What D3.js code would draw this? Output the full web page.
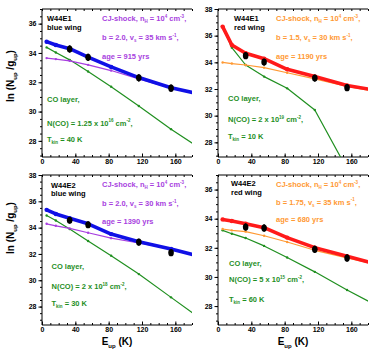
<!DOCTYPE html>
<html>
<head>
<meta charset="utf-8">
<script src="https://cdn.jsdelivr.net/npm/d3@7"></script>
<style>
  body { margin: 0; background: #fff; }
  svg { display: block; font-family: "Liberation Sans", Arial, sans-serif; font-weight: bold; }
</style>
</head>
<body>
<div id="chart"></div>
<script>
// upper level energies of CO J = 1..8 (K)
var EUP = [5.53, 16.60, 33.19, 55.32, 82.97, 116.16, 154.87, 199.11];
// observed transitions (J = 3, 4, 6, 7)
var OBS_EUP = [33.19, 55.32, 116.16, 154.87];

// W44E1 blue wing
var E1B_FIT = [34.77, 34.54, 34.29, 33.71, 33.05, 32.32, 31.63, 31.07];
var E1B_SHOCK = [33.65, 33.58, 33.46, 33.19, 32.80, 32.23, 31.59, 31.05];
var E1B_CO = [34.38, 34.03, 33.53, 32.73, 31.70, 30.38, 28.80, 27.14];
var E1B_OBS = [34.27, 33.70, 32.30, 31.60];

// W44E1 red wing
var E1R_FIT = [36.68, 35.30, 34.68, 34.27, 33.48, 32.94, 32.27, 31.79];
var E1R_SHOCK = [33.99, 33.91, 33.80, 33.60, 33.22, 32.76, 32.19, 31.72];
var E1R_CO = [36.68, 35.10, 33.80, 32.93, 32.05, 30.43, 26.00, 21.00];
var E1R_OBS = [34.50, 34.02, 32.82, 32.10];

// W44E2 blue wing
var E2B_FIT = [35.35, 35.04, 34.72, 34.29, 33.51, 32.93, 32.38, 31.66];
var E2B_SHOCK = [34.29, 34.14, 33.94, 33.61, 33.20, 32.83, 32.38, 31.68];
var E2B_CO = [34.92, 34.54, 33.89, 32.98, 31.87, 30.47, 28.70, 26.67];
var E2B_OBS = [34.56, 34.22, 32.90, 32.10];

// W44E2 red wing
var E2R_FIT = [33.95, 33.84, 33.65, 33.38, 32.70, 32.01, 31.42, 30.73];
var E2R_SHOCK = [33.29, 33.20, 33.11, 32.83, 32.40, 31.83, 31.31, 30.73];
var E2R_CO = [33.20, 32.97, 32.67, 32.13, 31.33, 30.35, 29.10, 27.77];
var E2R_OBS = [33.43, 33.36, 31.90, 31.30];

var OBS_ERR = 0.25;
var X_TICKS = [0, 40, 80, 120, 160];

// panel label texts: [text, "n" | "sub" | "sup"]
var E1B_LABELS = {
    name: ["W44E1", "blue wing"],
    shock: [
        [["CJ-shock, n"], ["H", "sub"], [" = 10"], ["4", "sup"], [" cm"], ["-3", "sup"], [","]],
        [["b = 2.0, v"], ["s", "sub"], [" = 35 km s"], ["-1", "sup"], [","]],
        [["age = 915 yrs"]]
    ],
    co: [
        [["CO layer,"]],
        [["N(CO) =  1.25 x 10"], ["16", "sup"], [" cm"], ["-2", "sup"], [","]],
        [["T"], ["kin", "sub"], [" = 40 K"]]
    ]
};
var E1R_LABELS = {
    name: ["W44E1", "red wing"],
    shock: [
        [["CJ-shock, n"], ["H", "sub"], [" = 10"], ["4", "sup"], [" cm"], ["-3", "sup"], [","]],
        [["b = 1.5, v"], ["s", "sub"], [" = 30 km s"], ["-1", "sup"], [","]],
        [["age = 1190 yrs"]]
    ],
    co: [
        [["CO layer,"]],
        [["N(CO) = 2 x 10"], ["19", "sup"], [" cm"], ["-2", "sup"], [","]],
        [["T"], ["kin", "sub"], [" = 10 K"]]
    ]
};
var E2B_LABELS = {
    name: ["W44E2", "blue wing"],
    shock: [
        [["CJ-shock, n"], ["H", "sub"], [" = 10"], ["4", "sup"], [" cm"], ["-3", "sup"], [","]],
        [["b = 2.0, v"], ["s", "sub"], [" = 30 km s"], ["-1", "sup"], [","]],
        [["age = 1390 yrs"]]
    ],
    co: [
        [["CO layer,"]],
        [["N(CO) = 2 x 10"], ["18", "sup"], [" cm"], ["-2", "sup"], [","]],
        [["T"], ["kin", "sub"], [" = 30 K"]]
    ]
};
var E2R_LABELS = {
    name: ["W44E2", "red wing"],
    shock: [
        [["CJ-shock, n"], ["H", "sub"], [" = 10"], ["4", "sup"], [" cm"], ["-3", "sup"], [","]],
        [["b = 1.75, v"], ["s", "sub"], [" = 35 km s"], ["-1", "sup"], [","]],
        [["age = 680 yrs"]]
    ],
    co: [
        [["CO layer,"]],
        [["N(CO) = 5 x 10"], ["15", "sup"], [" cm"], ["-2", "sup"], [","]],
        [["T"], ["kin", "sub"], [" = 60 K"]]
    ]
};

var GREEN = "#1f8f1f";
var BLUE = "#1010e6";
var PURPLE = "#a83fe0";
var RED = "#ff1a1a";
var ORANGE = "#ff9933";

// write text made of plain / sub / sup parts
function richText(g, x, y, parts, size, color, anchor) {
    var t = g.append("text")
        .attr("x", x)
        .attr("y", y)
        .attr("font-size", size)
        .attr("fill", color)
        .attr("text-anchor", anchor || "start");
    var shift = 0;
    parts.forEach(function (p) {
        var kind = p[1] || "n";
        var target = kind === "sub" ? size * 0.3 : kind === "sup" ? -size * 0.42 : 0;
        t.append("tspan")
            .attr("dy", target - shift)
            .attr("font-size", kind === "n" ? size : size * 0.6)
            .text(p[0]);
        shift = target;
    });
    return t;
}

function drawPanel(svg, cfg, idx) {
    var x = d3.scaleLinear().domain([0, 180]).range([cfg.left, cfg.right]);
    var y = d3.scaleLinear().domain(cfg.yDomain).range([cfg.bottom, cfg.top]);
    var g = svg.append("g");

    // clip for lines
    svg.append("clipPath").attr("id", "clip" + idx)
        .append("rect")
        .attr("x", cfg.left).attr("y", cfg.top)
        .attr("width", cfg.right - cfg.left).attr("height", cfg.bottom - cfg.top);

    // left axis, outward ticks
    var yMajor = d3.range(Math.ceil(cfg.yDomain[0] / 2) * 2, cfg.yDomain[1] + 0.01, 2);
    var yMinor = d3.range(Math.ceil(cfg.yDomain[0] * 2) / 2, cfg.yDomain[1] + 0.01, 0.5);
    g.append("g")
        .attr("transform", "translate(" + cfg.left + ",0)")
        .call(d3.axisLeft(y).tickValues(yMinor).tickSize(2).tickFormat(""))
        .call(function (a) { a.select(".domain").remove(); });
    g.append("g")
        .attr("class", "yax")
        .attr("transform", "translate(" + cfg.left + ",0)")
        .call(d3.axisLeft(y).tickValues(yMajor).tickSize(3.5).tickPadding(2).tickFormat(d3.format("d")))
        .call(function (a) {
            a.select(".domain").remove();
            a.selectAll("text").attr("font-size", 7).attr("font-family", null).attr("fill", "#000");
        });

    // bottom axis, inward ticks
    var xMinor = d3.range(0, 181, 10);
    g.append("g")
        .attr("transform", "translate(0," + cfg.bottom + ")")
        .call(d3.axisBottom(x).tickValues(xMinor).tickSize(-2).tickFormat(""))
        .call(function (a) { a.select(".domain").remove(); });
    g.append("g")
        .attr("transform", "translate(0," + cfg.bottom + ")")
        .call(d3.axisBottom(x).tickValues(X_TICKS).tickSize(-3.5).tickPadding(2.5))
        .call(function (a) {
            a.select(".domain").remove();
            a.selectAll("text").attr("font-size", 7).attr("font-family", null).attr("fill", "#000");
        });

    // top axis, inward ticks
    g.append("g")
        .attr("transform", "translate(0," + cfg.top + ")")
        .call(d3.axisTop(x).tickValues(xMinor).tickSize(-2).tickFormat(""))
        .call(function (a) { a.select(".domain").remove(); });

    // frame lines (left, bottom, top)
    g.append("path")
        .attr("d", "M" + cfg.right + "," + cfg.top + "H" + cfg.left + "V" + cfg.bottom + "H" + cfg.right)
        .attr("fill", "none")
        .attr("stroke", "#000")
        .attr("stroke-width", 1);

    var line = d3.line()
        .x(function (d, i) { return x(EUP[i]); })
        .y(function (d) { return y(d); });

    var plot = svg.append("g").attr("clip-path", "url(#clip" + idx + ")");

    [
        { data: cfg.co, color: GREEN, w: 1.2 },
        { data: cfg.shock, color: cfg.shockColor, w: 1.2 },
        { data: cfg.fit, color: cfg.fitColor, w: 3.6 }
    ].forEach(function (s) {
        plot.append("path")
            .datum(s.data)
            .attr("d", line)
            .attr("fill", "none")
            .attr("stroke", s.color)
            .attr("stroke-width", s.w)
            .attr("stroke-linejoin", "round");
        plot.selectAll(null)
            .data(s.data)
            .enter()
            .append("circle")
            .attr("cx", function (d, i) { return x(EUP[i]); })
            .attr("cy", function (d) { return y(d); })
            .attr("r", s.w > 2 ? 2.2 : 1.2)
            .attr("fill", s.color);
    });

    // observed points with error bars
    plot.selectAll(null)
        .data(cfg.obs)
        .enter()
        .append("line")
        .attr("x1", function (d, i) { return x(OBS_EUP[i]); })
        .attr("x2", function (d, i) { return x(OBS_EUP[i]); })
        .attr("y1", function (d) { return y(d - OBS_ERR); })
        .attr("y2", function (d) { return y(d + OBS_ERR); })
        .attr("stroke", "#000")
        .attr("stroke-width", 1.5);
    plot.selectAll(null)
        .data(cfg.obs)
        .enter()
        .append("ellipse")
        .attr("cx", function (d, i) { return x(OBS_EUP[i]); })
        .attr("cy", function (d) { return y(d); })
        .attr("rx", 2.8)
        .attr("ry", 3.6)
        .attr("fill", "#000");

    // labels
    var L = cfg.labels;
    g.append("text").attr("x", cfg.left + cfg.nameDx).attr("y", cfg.top + cfg.nameDy[0])
        .attr("font-size", 7.5).attr("fill", "#000").text(L.name[0]);
    g.append("text").attr("x", cfg.left + cfg.nameDx).attr("y", cfg.top + cfg.nameDy[1])
        .attr("font-size", 7.5).attr("fill", "#000").text(L.name[1]);
    L.shock.forEach(function (parts, i) {
        richText(g, cfg.left + cfg.shockDx, cfg.top + cfg.shockDy[i], parts, 7.5, cfg.shockColor);
    });
    L.co.forEach(function (parts, i) {
        richText(g, cfg.left + cfg.coDx, cfg.top + cfg.coDy[i], parts, 7.5, GREEN);
    });
}

function drawChart() {
    var svg = d3.select("#chart").append("svg")
        .attr("width", 375)
        .attr("height", 358);

    var panels = [
        { left: 42, right: 192, top: 9, bottom: 157, yDomain: [26.9, 37],
          fit: E1B_FIT, shock: E1B_SHOCK, co: E1B_CO, obs: E1B_OBS,
          fitColor: BLUE, shockColor: PURPLE, labels: E1B_LABELS,
          nameDx: 5, nameDy: [12, 21], shockDx: 60, shockDy: [12, 31, 50],
          coDx: 5, coDy: [93, 116.5, 133] },
        { left: 218, right: 368, top: 9, bottom: 157, yDomain: [26.9, 38],
          fit: E1R_FIT, shock: E1R_SHOCK, co: E1R_CO, obs: E1R_OBS,
          fitColor: RED, shockColor: ORANGE, labels: E1R_LABELS,
          nameDx: 16, nameDy: [11.5, 21], shockDx: 58, shockDy: [12, 31, 50],
          coDx: 10, coDy: [92, 113, 130] },
        { left: 42, right: 192, top: 175, bottom: 325, yDomain: [26.6, 38],
          fit: E2B_FIT, shock: E2B_SHOCK, co: E2B_CO, obs: E2B_OBS,
          fitColor: BLUE, shockColor: PURPLE, labels: E2B_LABELS,
          nameDx: 9, nameDy: [12.5, 21], shockDx: 60, shockDy: [12, 31, 48.5],
          coDx: 9.5, coDy: [94, 114, 130.5] },
        { left: 218, right: 368, top: 175, bottom: 325, yDomain: [26.7, 37],
          fit: E2R_FIT, shock: E2R_SHOCK, co: E2R_CO, obs: E2R_OBS,
          fitColor: RED, shockColor: ORANGE, labels: E2R_LABELS,
          nameDx: 13, nameDy: [11, 20], shockDx: 58, shockDy: [12, 29.5, 47],
          coDx: 11, coDy: [90.5, 107, 127] }
    ];
    panels.forEach(function (p, i) { drawPanel(svg, p, i); });

    // y axis titles
    [76, 228].forEach(function (cy) {
        var t = richText(svg, 0, 0,
            [["ln (N"], ["up", "sub"], [" /g"], ["up", "sub"], [")"]], 10, "#000", "middle");
        t.attr("transform", "translate(14," + cy + ") rotate(-90)");
    });
    // x axis titles
    [117, 293].forEach(function (cx) {
        richText(svg, cx, 345, [["E"], ["up", "sub"], [" (K)"]], 10, "#000", "middle");
    });
}

window.onload = function () {
    drawChart();
};
</script>
</body>
</html>
